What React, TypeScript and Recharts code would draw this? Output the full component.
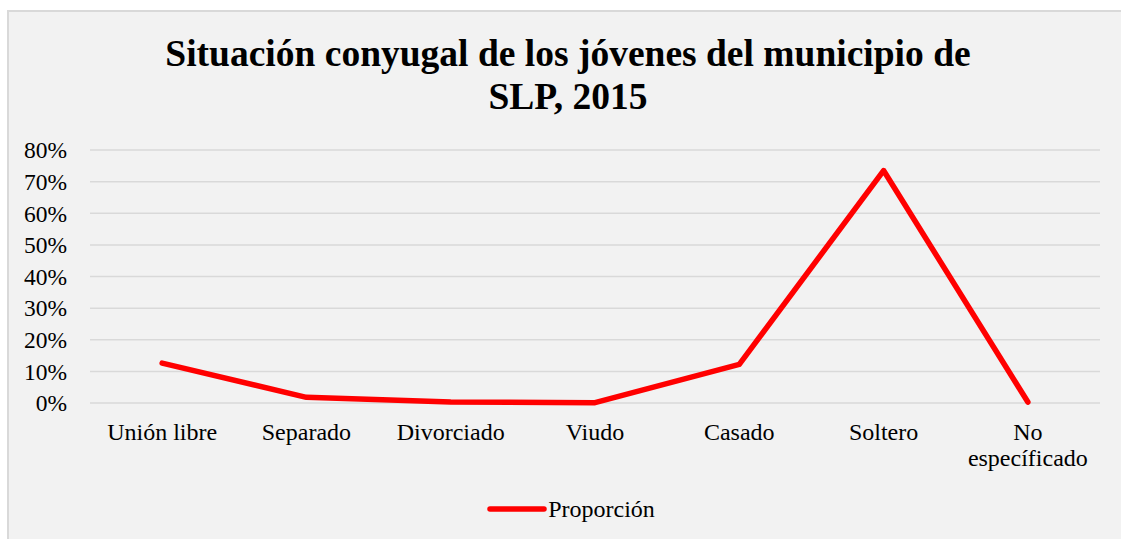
import React from "react";
import { LineChart, Line, XAxis, YAxis, CartesianGrid, Legend } from "recharts";

const categories = ["Unión libre", "Separado", "Divorciado", "Viudo", "Casado", "Soltero", "No específicado"];
const proporcion = [0.126, 0.018, 0.003, 0.001, 0.122, 0.735, 0.003];
const yTicks = [0, 0.1, 0.2, 0.3, 0.4, 0.5, 0.6, 0.7, 0.8];
const seriesName = "Proporción";
const titleLines = ["Situación conyugal de los jóvenes del municipio de", "SLP, 2015"];

const data = categories.map((name, i) => ({ name, value: proporcion[i] }));

const FONT = '"Liberation Serif", "Times New Roman", serif';
const W = 1120;
const H = 529;
const PLOT_W = 1010;
const HALF_BAND = PLOT_W / categories.length / 2;

const XTick = (props: any) => {
    const { x, y, payload } = props;
    const label: string = payload.value;
    const lines = label.length > 12 && label.includes(" ") ? label.split(" ") : [label];
    return (
        <text x={x} y={y} textAnchor="middle" fill="#000" fontSize={24} fontFamily={FONT}>
            {lines.map((l, i) => (
                <tspan key={i} x={x} dy={i === 0 ? 29 : 26}>
                    {l}
                </tspan>
            ))}
        </text>
    );
};

const LegendContent = () => (
    <div style={{ display: "flex", justifyContent: "center", alignItems: "center", height: 40, paddingLeft: 8 }}>
        <svg width={60} height={12} style={{ display: "block" }}>
            <line x1={3} y1={6} x2={57} y2={6} stroke="#ff0000" strokeWidth={5.5} strokeLinecap="round" />
        </svg>
        <span style={{ fontFamily: FONT, fontSize: 24, color: "#000", marginLeft: 1 }}>{seriesName}</span>
    </div>
);

export default function App() {
    return (
        <div style={{ position: "absolute", left: 0, top: 0, width: 1121, height: 539, overflow: "hidden", background: "#fff" }}>
            <div
                style={{
                    position: "absolute",
                    left: 7,
                    top: 10,
                    width: W,
                    height: H,
                    background: "#f2f2f2",
                    borderLeft: "2px solid #d9d9d9",
                    borderTop: "2px solid #d9d9d9",
                    boxSizing: "border-box",
                }}
            >
                <div
                    style={{
                        position: "absolute",
                        left: 0,
                        top: 20,
                        width: W - 2,
                        textAlign: "center",
                        fontFamily: FONT,
                        fontWeight: "bold",
                        fontSize: 37.5,
                        lineHeight: "43px",
                        color: "#000",
                    }}
                >
                    {titleLines.map((t, i) => (
                        <div key={i}>{t}</div>
                    ))}
                </div>
                <div style={{ position: "absolute", left: -2, top: -2 }}>
                    <LineChart width={W} height={H} data={data} margin={{ top: 140, right: 27, bottom: 16, left: 0 }}>
                        <CartesianGrid vertical={false} stroke="#d9d9d9" strokeWidth={1.5} />
                        <XAxis
                            dataKey="name"
                            axisLine={false}
                            tickLine={false}
                            interval={0}
                            height={80}
                            padding={{ left: HALF_BAND, right: HALF_BAND }}
                            tick={<XTick />}
                        />
                        <YAxis
                            domain={[0, 0.8]}
                            ticks={yTicks}
                            interval={0}
                            width={83}
                            axisLine={false}
                            tickLine={false}
                            tickSize={0}
                            tickMargin={23}
                            tickFormatter={(v: number) => `${Math.round(v * 100)}%`}
                            tick={{ fill: "#000", fontSize: 23.5, fontFamily: FONT }}
                        />
                        <Legend
                            verticalAlign="bottom"
                            content={<LegendContent />}
                            wrapperStyle={{ top: 479, bottom: "auto", left: 0, width: W }}
                        />
                        <Line
                            dataKey="value"
                            name={seriesName}
                            stroke="#ff0000"
                            strokeWidth={5.5}
                            strokeLinecap="round"
                            strokeLinejoin="round"
                            dot={false}
                            activeDot={false}
                            isAnimationActive={false}
                        />
                    </LineChart>
                </div>
            </div>
        </div>
    );
}
